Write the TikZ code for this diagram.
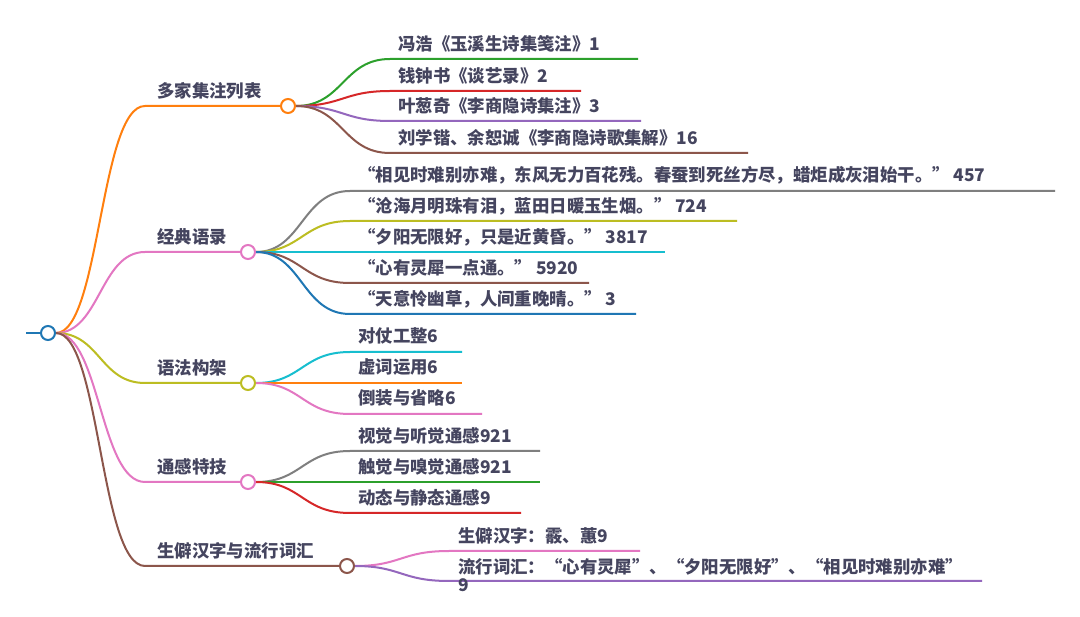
\documentclass[tikz,border=0pt]{standalone}
\usepackage{fontspec}
\setmainfont{Noto Sans CJK SC}
\usetikzlibrary{backgrounds}
\definecolor{mblue}{HTML}{1F77B4}
\definecolor{morange}{HTML}{FF7F0E}
\definecolor{mgreen}{HTML}{2CA02C}
\definecolor{mred}{HTML}{D62728}
\definecolor{mpurple}{HTML}{9467BD}
\definecolor{mbrown}{HTML}{8C564B}
\definecolor{mpink}{HTML}{E377C2}
\definecolor{mgray}{HTML}{7F7F7F}
\definecolor{molive}{HTML}{BCBD22}
\definecolor{mcyan}{HTML}{17BECF}
\definecolor{txt}{HTML}{45455F}
\begin{document}
\begin{tikzpicture}[x=1pt,y=-1pt,
  dot/.style={circle,draw,fill=white,line width=2pt,minimum size=14pt,inner sep=0pt},
  lbl/.style={anchor=west,inner sep=0pt,text=txt,font=\fontsize{17.4}{20}\selectfont\bfseries},
  link/.style={line width=2pt}]
\useasboundingbox (0,0) rectangle (1080,617);
% root
\node[dot,draw=mblue] (R) at (48,333) {};
\coordinate (Rs) at (26,333);
% level 1 circles
\node[dot,draw=morange] (A) at (288,106) {};
\node[dot,draw=mpink]   (B) at (248,252) {};
\node[dot,draw=molive]  (C) at (248,383) {};
\node[dot,draw=mpink]   (D) at (248,482) {};
\node[dot,draw=mbrown]  (E) at (347,566) {};
% level 1 labels
\node[lbl] (At) at (157,91)  {多家集注列表};
\node[lbl] (Bt) at (157,237) {经典语录};
\node[lbl] (Ct) at (157,368) {语法构架};
\node[lbl] (Dt) at (157,467) {通感特技};
\node[lbl] (Et) at (157,551) {生僻汉字与流行词汇};
% level 1 joints
\coordinate (Aj) at (145,106);
\coordinate (Bj) at (145,252);
\coordinate (Cj) at (145,383);
\coordinate (Dj) at (145,482);
\coordinate (Ej) at (145,566);
% children labels
\node[lbl] (A1t) at (398,44)  {冯浩《玉溪生诗集笺注》1};
\node[lbl] (A2t) at (398,76)  {钱钟书《谈艺录》2};
\node[lbl] (A3t) at (398,106) {叶葱奇《李商隐诗集注》3};
\node[lbl] (A4t) at (398,138) {刘学锴、余恕诚《李商隐诗歌集解》16};
\node[lbl] (B1t) at (358,175) {“相见时难别亦难，东风无力百花残。春蚕到死丝方尽，蜡炬成灰泪始干。” 457};
\node[lbl] (B2t) at (358,206) {“沧海月明珠有泪，蓝田日暖玉生烟。” 724};
\node[lbl] (B3t) at (358,237) {“夕阳无限好，只是近黄昏。” 3817};
\node[lbl] (B4t) at (358,268) {“心有灵犀一点通。” 5920};
\node[lbl] (B5t) at (358,299) {“天意怜幽草，人间重晚晴。” 3};
\node[lbl] (C1t) at (358,336) {对仗工整6};
\node[lbl] (C2t) at (358,367) {虚词运用6};
\node[lbl] (C3t) at (358,398) {倒装与省略6};
\node[lbl] (D1t) at (358,436) {视觉与听觉通感921};
\node[lbl] (D2t) at (358,467) {触觉与嗅觉通感921};
\node[lbl] (D3t) at (358,498) {动态与静态通感9};
\node[lbl] (E1t) at (458,536) {生僻汉字：霰、蕙9};
\node[lbl] (E2t) at (458,567) {流行词汇：“心有灵犀”、“夕阳无限好”、“相见时难别亦难”};
\node[lbl] (E2u) at (458,585) {9};
% children joints and ends
\coordinate (A1j) at (390,59);  \coordinate (A1e) at (638,59);
\coordinate (A2j) at (390,91);  \coordinate (A2e) at (581,91);
\coordinate (A3j) at (390,121); \coordinate (A3e) at (641,121);
\coordinate (A4j) at (390,153); \coordinate (A4e) at (748,153);
\coordinate (B1j) at (350,191); \coordinate (B1e) at (1055,191);
\coordinate (B2j) at (350,221); \coordinate (B2e) at (737,221);
\coordinate (B3j) at (350,252); \coordinate (B3e) at (665,252);
\coordinate (B4j) at (350,283); \coordinate (B4e) at (589,283);
\coordinate (B5j) at (350,314); \coordinate (B5e) at (636,314);
\coordinate (C1j) at (350,352); \coordinate (C1e) at (462,352);
\coordinate (C2j) at (350,383); \coordinate (C2e) at (462,383);
\coordinate (C3j) at (350,414); \coordinate (C3e) at (482,414);
\coordinate (D1j) at (350,451); \coordinate (D1e) at (540,451);
\coordinate (D2j) at (350,482); \coordinate (D2e) at (540,482);
\coordinate (D3j) at (350,513); \coordinate (D3e) at (521,513);
\coordinate (E1j) at (449,551); \coordinate (E1e) at (640,551);
\coordinate (E2j) at (449,581); \coordinate (E2e) at (982,581);
\begin{pgfonlayer}{background}
\fill[white] (0,0) rectangle (1080,617);
\draw[mblue,line width=2.5pt] (Rs) -- (R.west);
\draw[link,morange] (R.east) .. controls (100,333) and (100,106) .. (Aj) -- (A.west);
\draw[link,mpink]   (R.east) .. controls (100,333) and (100,252) .. (Bj) -- (B.west);
\draw[link,molive]  (R.east) .. controls (100,333) and (100,383) .. (Cj) -- (C.west);
\draw[link,mpink]   (R.east) .. controls (100,333) and (100,482) .. (Dj) -- (D.west);
\draw[link,mbrown]  (R.east) .. controls (100,333) and (100,566) .. (Ej) -- (E.west);
% A
\draw[link,mgreen]  (A.east) .. controls (343,106) and (343,59)  .. (A1j) -- (A1e);
\draw[link,mred]    (A.east) .. controls (343,106) and (343,91)  .. (A2j) -- (A2e);
\draw[link,mpurple] (A.east) .. controls (343,106) and (343,121) .. (A3j) -- (A3e);
\draw[link,mbrown]  (A.east) .. controls (343,106) and (343,153) .. (A4j) -- (A4e);
% B
\draw[link,mgray]   (B.east) .. controls (302,252) and (302,191) .. (B1j) -- (B1e);
\draw[link,molive]  (B.east) .. controls (302,252) and (302,221) .. (B2j) -- (B2e);
\draw[link,mcyan]   (B.east) .. controls (302,252) and (302,252) .. (B3j) -- (B3e);
\draw[link,mbrown]  (B.east) .. controls (302,252) and (302,283) .. (B4j) -- (B4e);
\draw[link,mblue]   (B.east) .. controls (302,252) and (302,314) .. (B5j) -- (B5e);
% C
\draw[link,mcyan]   (C.east) .. controls (302,383) and (302,352) .. (C1j) -- (C1e);
\draw[link,morange] (C.east) .. controls (302,383) and (302,383) .. (C2j) -- (C2e);
\draw[link,mpink]   (C.east) .. controls (302,383) and (302,414) .. (C3j) -- (C3e);
% D
\draw[link,mgray]   (D.east) .. controls (302,482) and (302,451) .. (D1j) -- (D1e);
\draw[link,mgreen]  (D.east) .. controls (302,482) and (302,482) .. (D2j) -- (D2e);
\draw[link,mred]    (D.east) .. controls (302,482) and (302,513) .. (D3j) -- (D3e);
% E
\draw[link,mpink]   (E.east) .. controls (401,566) and (401,551) .. (E1j) -- (E1e);
\draw[link,mpurple] (E.east) .. controls (401,566) and (401,581) .. (E2j) -- (E2e);
\end{pgfonlayer}
\end{tikzpicture}
\end{document}
